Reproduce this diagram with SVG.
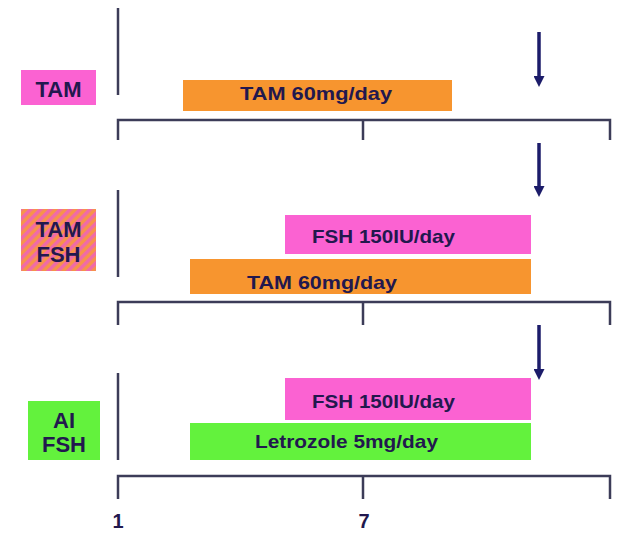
<svg xmlns="http://www.w3.org/2000/svg" width="617" height="533" viewBox="0 0 617 533">
<defs>
<pattern id="stripes" patternUnits="userSpaceOnUse" width="7" height="7" patternTransform="rotate(45)">
<rect x="0" y="0" width="7" height="7" fill="#f7934a"/>
<rect x="0" y="0" width="3.5" height="7" fill="#f06aa8"/>
</pattern>
<marker id="ah" viewBox="0 0 10 10" refX="0" refY="5" markerWidth="11" markerHeight="11" markerUnits="userSpaceOnUse" orient="auto">
<path d="M0,0 L10,5 L0,10 Z" fill="#1c1c6a"/>
</marker>
<style>
.ax{fill:none;stroke:#3c3c58;stroke-width:2.5}
.arr{stroke:#1c1c6a;stroke-width:3.5;fill:none}
.t{font-family:"Liberation Sans",Arial,sans-serif;font-weight:bold;fill:#22184e;text-anchor:middle}
.lab{font-size:22px}
.num{font-size:20px}
.bar{font-size:19px}
.pink{fill:#fb62d2}
.orange{fill:#f7952f}
.green{fill:#63f23d}
</style>
</defs>
<rect width="617" height="533" fill="#ffffff"/>

<g id="connectors">
<path class="ax" d="M118,8 V95"/>
<path class="ax" d="M118,140 V120 H610 V140 M363,120 V140"/>
<path class="ax" d="M118,190 V277"/>
<path class="ax" d="M118,325 V302 H610 V325 M363,302 V325"/>
<path class="ax" d="M118,373 V460"/>
<path class="ax" d="M118,499 V476 H610 V499 M363,476 V499"/>
<line class="arr" x1="539" y1="32" x2="539" y2="76" marker-end="url(#ah)"/>
<line class="arr" x1="539" y1="143" x2="539" y2="186" marker-end="url(#ah)"/>
<line class="arr" x1="539" y1="325" x2="539" y2="369" marker-end="url(#ah)"/>
</g>

<g id="label-tam">
<rect class="pink" x="21" y="70" width="75" height="35"/>
<text class="t lab" x="58.5" y="97">TAM</text>
</g>
<g id="bar-tam-1">
<rect class="orange" x="183" y="80" width="269" height="31"/>
<text class="t bar" x="316" y="100" textLength="152" lengthAdjust="spacingAndGlyphs">TAM 60mg/day</text>
</g>

<g id="label-tam-fsh">
<rect x="21" y="209" width="75" height="62" fill="url(#stripes)"/>
<text class="t lab" x="58.5" y="237">TAM</text>
<text class="t lab" x="58.5" y="262">FSH</text>
</g>
<g id="bar-fsh-2">
<rect class="pink" x="285" y="215" width="246" height="39"/>
<text class="t bar" x="383.5" y="243" textLength="143" lengthAdjust="spacingAndGlyphs" fill="#3a1a66">FSH 150IU/day</text>
</g>
<g id="bar-tam-2">
<rect class="orange" x="190" y="259" width="341" height="35"/>
<text class="t bar" x="322" y="289" textLength="150" lengthAdjust="spacingAndGlyphs">TAM 60mg/day</text>
</g>

<g id="label-ai-fsh">
<rect class="green" x="28" y="401" width="72" height="59"/>
<text class="t lab" x="64" y="428">AI</text>
<text class="t lab" x="64" y="452">FSH</text>
</g>
<g id="bar-fsh-3">
<rect class="pink" x="285" y="378" width="246" height="42"/>
<text class="t bar" x="383.5" y="408" textLength="143" lengthAdjust="spacingAndGlyphs">FSH 150IU/day</text>
</g>
<g id="bar-letrozole">
<rect class="green" x="190" y="423" width="341" height="37"/>
<text class="t bar" x="346.5" y="448" textLength="183" lengthAdjust="spacingAndGlyphs">Letrozole 5mg/day</text>
</g>

<g id="axis-labels">
<text class="t num" x="118" y="528">1</text>
<text class="t num" x="364" y="528">7</text>
</g>
</svg>
